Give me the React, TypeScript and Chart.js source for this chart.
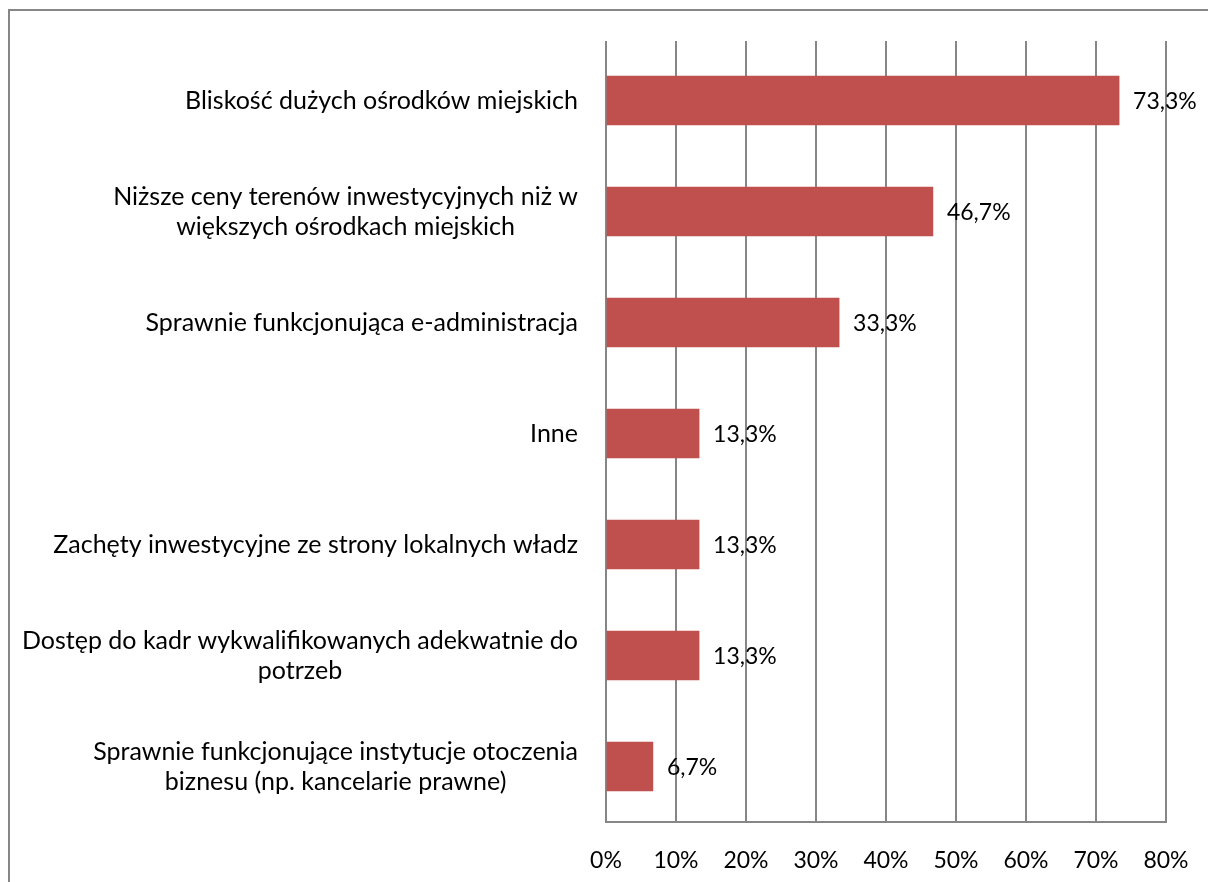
import React, { useEffect, useRef } from "react";
import { Chart, registerables } from "chart.js";

Chart.register(...registerables);

const categories: string[][] = [
  ["Bliskość dużych ośrodków miejskich"],
  ["Niższe ceny terenów inwestycyjnych niż w", "większych ośrodkach miejskich"],
  ["Sprawnie funkcjonująca e-administracja"],
  ["Inne"],
  ["Zachęty inwestycyjne ze strony lokalnych władz"],
  ["Dostęp do kadr wykwalifikowanych adekwatnie do", "potrzeb"],
  ["Sprawnie funkcjonujące instytucje otoczenia", "biznesu (np. kancelarie prawne)"],
];

const values: number[] = [73.3, 46.7, 33.3, 13.3, 13.3, 13.3, 6.7];

const valueLabels: string[] = ["73,3%", "46,7%", "33,3%", "13,3%", "13,3%", "13,3%", "6,7%"];

const xMin = 0;
const xMax = 80;
const xStep = 10;

const FONT_FAMILY = "Lato, 'Noto Sans', sans-serif";
const FONT_SIZE = 23;
const CAT_FONT_SIZE = 25;
const LABEL_RIGHT = 578;
const LINE_HEIGHT = 30;
const GRID = "#868686";
const BAR = "#C0504D";

const labelsPlugin = {
  id: "customLabels",
  beforeDatasetsDraw(chart: any) {
    // extend gridlines slightly above the plot area, as in the reference
    const ctx = chart.ctx;
    const xScale = chart.scales.x;
    const top = chart.chartArea.top;
    ctx.save();
    ctx.strokeStyle = GRID;
    ctx.lineWidth = 2;
    for (let v = xMin; v <= xMax; v += xStep) {
      const x = Math.round(xScale.getPixelForValue(v));
      ctx.beginPath();
      ctx.moveTo(x, top - 4);
      ctx.lineTo(x, top + 1);
      ctx.stroke();
    }
    ctx.restore();
  },
  afterDraw(chart: any) {
    const ctx = chart.ctx;
    const yScale = chart.scales.y;
    const xScale = chart.scales.x;
    ctx.save();
    ctx.fillStyle = "#000";
    ctx.textBaseline = "middle";
    // category labels: block right-aligned, lines centered within block
    ctx.font = `${CAT_FONT_SIZE}px ${FONT_FAMILY}`;
    categories.forEach((lines, i) => {
      const y = yScale.getPixelForTick(i);
      const widest = Math.max(...lines.map((l) => ctx.measureText(l).width));
      const cx = LABEL_RIGHT - widest / 2;
      ctx.textAlign = "center";
      lines.forEach((line, j) => {
        const ly = y + (j - (lines.length - 1) / 2) * LINE_HEIGHT;
        ctx.fillText(line, cx, ly);
      });
    });
    // value labels
    ctx.font = `${FONT_SIZE}px ${FONT_FAMILY}`;
    const meta = chart.getDatasetMeta(0);
    meta.data.forEach((bar: any, i: number) => {
      ctx.textAlign = "left";
      ctx.fillText(valueLabels[i], xScale.getPixelForValue(values[i]) + 14, bar.y + 1);
    });
    ctx.restore();
  },
};

export default function App() {
  const canvasRef = useRef<HTMLCanvasElement | null>(null);

  useEffect(() => {
    if (!canvasRef.current) return;
    const chart = new Chart(canvasRef.current, {
      type: "bar",
      data: {
        labels: categories.map((c) => c.join(" ")),
        datasets: [
          {
            data: values,
            backgroundColor: BAR,
            borderWidth: 0,
            barThickness: 49,
          },
        ],
      },
      options: {
        indexAxis: "y",
        animation: false,
        responsive: false,
        devicePixelRatio: 1,
        layout: { padding: { left: 0, top: 45, right: 42, bottom: 0 } },
        plugins: {
          legend: { display: false },
          tooltip: { enabled: false },
        },
        scales: {
          x: {
            min: xMin,
            max: xMax,
            grid: { color: GRID, lineWidth: 2, drawTicks: false },
            border: { display: true, color: GRID, width: 2 },
            ticks: {
              stepSize: xStep,
              padding: 25,
              color: "#000",
              font: { family: FONT_FAMILY, size: FONT_SIZE },
              callback: (v: any) => `${v}%`,
            },
            afterFit: (scale: any) => {
              scale.height = 60;
              scale.paddingLeft = 0;
              scale.paddingRight = 0;
            },
          },
          y: {
            grid: { display: false, drawTicks: false },
            border: { display: true, color: GRID, width: 2 },
            ticks: { display: false },
            afterFit: (scale: any) => {
              scale.width = 606;
            },
          },
        },
      },
      plugins: [labelsPlugin],
    });
    return () => chart.destroy();
  }, []);

  return (
    <>
      <canvas
        ref={canvasRef}
        width={1208}
        height={882}
        style={{ position: "fixed", left: 0, top: 0, width: 1208, height: 882, background: "#fff" }}
      />
      <div
        style={{
          position: "fixed",
          left: 8,
          top: 9,
          width: 1400,
          height: 1100,
          borderLeft: `2px solid ${GRID}`,
          borderTop: `2px solid ${GRID}`,
          pointerEvents: "none",
        }}
      />
    </>
  );
}
